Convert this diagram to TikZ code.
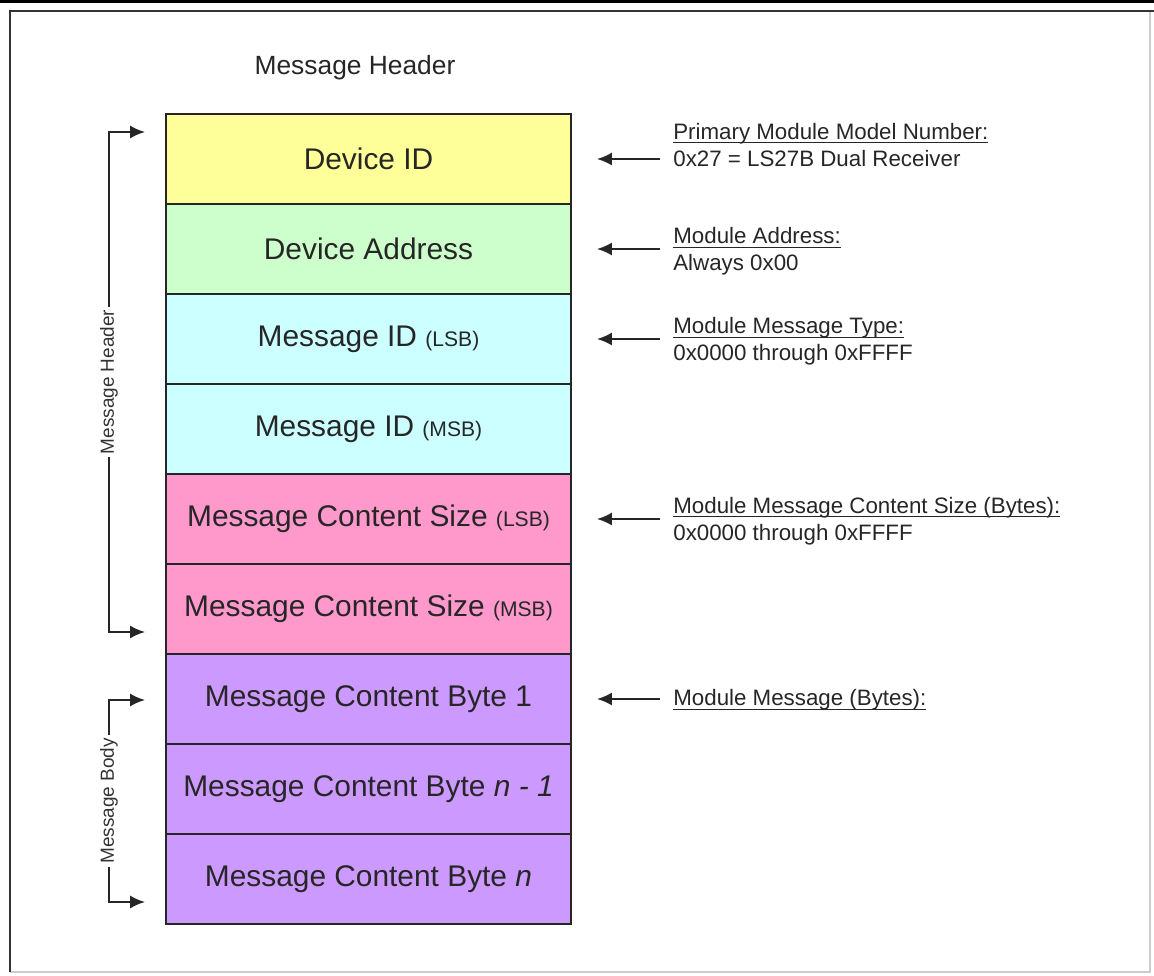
\documentclass[tikz,border=0pt]{standalone}
\usepackage{fontspec}
\setmainfont{Liberation Sans}
\usetikzlibrary{arrows.meta}

\definecolor{fidyellow}{HTML}{FFFF99}
\definecolor{faddrgreen}{HTML}{CCFFCC}
\definecolor{fmsgcyan}{HTML}{CCFFFF}
\definecolor{fsizepink}{HTML}{FF99CC}
\definecolor{fbytepurple}{HTML}{CC99FF}

\newcommand{\bytehalf}[1]{{\fontsize{12}{14}\selectfont #1}}
% underline that runs through the descenders
\newsavebox\notebox
\newcommand{\noteul}[1]{\sbox\notebox{#1}\rlap{\rule[-2.3pt]{\wd\notebox}{0.6pt}}\usebox\notebox}

\begin{document}
\begin{tikzpicture}[>={Latex[length=8.5pt,width=7.5pt]},
  field/.style={draw=black!85,line width=1.1pt,minimum width=8.1cm,minimum height=1.8cm,
    inner sep=0pt,outer sep=0pt,text=black!85,font=\fontsize{17}{20}\selectfont},
  note/.style={anchor=west,align=left,inner xsep=0pt,text=black!85,font=\fontsize{12.7}{15.4}\selectfont},
  brace/.style={rotate=90,inner sep=1.5pt,text=black!80,font=\fontsize{10.8}{12}\selectfont},
  ptr/.style={->,line width=1.2pt,black!85}]
  \useasboundingbox (0,0) rectangle (23.08,-19.52);
  % page edge and frame
  \fill (0,0) rectangle (23.08,-0.06);
  \draw[black!20,line width=1pt] (23.0,-0.22) -- (23.0,-19.44) -- (0.2,-19.44);
  \draw[black!80,line width=1.3pt] (0.2,-19.44) -- (0.2,-0.22) -- (23.08,-0.22);

  \node[text=black!85,font=\fontsize{15}{18}\selectfont] (title) at (7.1,-1.36) {Message Header};

  % the nine byte fields, top to bottom
  \foreach \nm/\col/\txt [count=\i from 0] in {
      devid/fidyellow/{Device ID},
      devaddr/faddrgreen/{Device Address},
      msgidl/fmsgcyan/{Message ID \bytehalf{(LSB)}},
      msgidm/fmsgcyan/{Message ID \bytehalf{(MSB)}},
      sizel/fsizepink/{Message Content Size \bytehalf{(LSB)}},
      sizem/fsizepink/{Message Content Size \bytehalf{(MSB)}},
      byte1/fbytepurple/{Message Content Byte 1},
      byten1/fbytepurple/{Message Content Byte \textit{n - 1}},
      byten/fbytepurple/{Message Content Byte \textit{n}}}
    \node[field,fill=\col] (\nm) at (7.37,{-3.18-1.8*\i}) {\txt};

  % notes on the right
  \node[note] (n-devid) at (13.46,-2.90) {\noteul{Primary Module Model Number:}\\0x27 = LS27B Dual Receiver};
  \node[note] (n-devaddr) at (13.46,-5.03) {\noteul{Module Address:}\\Always 0x00};
  \node[note] (n-msgidl) at (13.46,-6.83) {\noteul{Module Message Type:}\\0x0000 through 0xFFFF};
  \node[note] (n-sizel) at (13.46,-10.42) {\noteul{Module Message Content Size (Bytes):}\\0x0000 through 0xFFFF};
  \node[note] (n-byte1) at (13.46,-14.0) {\noteul{Module Message (Bytes):}};
  \foreach \f in {devid,devaddr,msgidl,sizel,byte1}
    \draw[ptr] ([xshift=-0.26cm]n-\f.west |- \f.east) -- ([xshift=0.52cm]\f.east);

  % brackets on the left
  \node[brace] (hdr) at (2.18,-7.64) {Message Header};
  \node[brace] (body) at (2.18,-16.02) {Message Body};
  \coordinate (hdr-top) at (2.9,-2.64);
  \coordinate (hdr-bot) at (2.9,-12.64);
  \coordinate (body-top) at (2.9,-14.0);
  \coordinate (body-bot) at (2.9,-18.04);
  \draw[ptr] (hdr.east) |- (hdr-top);
  \draw[ptr] (hdr.west) |- (hdr-bot);
  \draw[ptr] (body.east) |- (body-top);
  \draw[ptr] (body.west) |- (body-bot);
\end{tikzpicture}
\end{document}
